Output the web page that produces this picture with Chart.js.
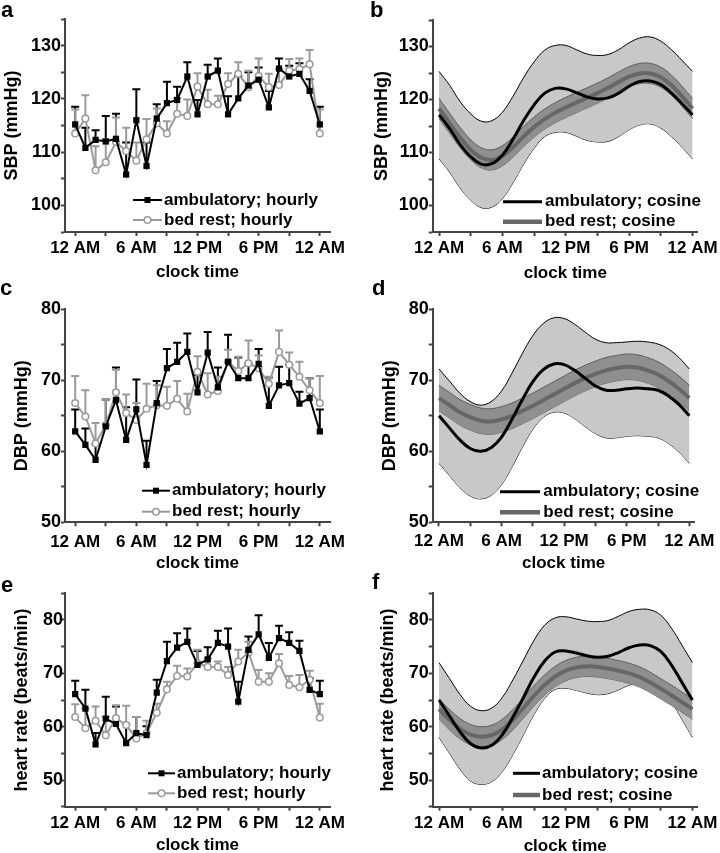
<!DOCTYPE html>
<html>
<head>
<meta charset="utf-8">
<script src="https://cdn.jsdelivr.net/npm/chart.js@4.4.1/dist/chart.umd.min.js"></script>
<style>
  body { margin: 0; background: #fff; width: 720px; height: 853px; overflow: hidden; position: relative; }
  canvas { position: absolute; }
</style>
</head>
<body>
<canvas id="pa" width="360" height="284" style="left:0;top:0"></canvas>
<canvas id="pb" width="360" height="284" style="left:360px;top:0"></canvas>
<canvas id="pc" width="360" height="298" style="left:0;top:280px"></canvas>
<canvas id="pd" width="360" height="298" style="left:360px;top:280px"></canvas>
<canvas id="pe" width="360" height="292" style="left:0;top:566px"></canvas>
<canvas id="pf" width="360" height="292" style="left:360px;top:566px"></canvas>
<script>
// clock hours, 0 = midnight, 24 = next midnight
const hours = [0,1,2,3,4,5,6,7,8,9,10,11,12,13,14,15,16,17,18,19,20,21,22,23,24];
const xTicks = [0,3,6,9,12,15,18,21,24];
const xLabels = ['12 AM','','6 AM','','12 PM','','6 PM','','12 AM'];
const sbpTicks = [95,100,105,110,115,120,125,130,135];
const dbpTicks = [50,55,60,65,70,75,80];
const hrTicks = [45,50,55,60,65,70,75,80,85];

// hourly means and upper error bar ends
const ambSBP   = [115.2,110.8,112.3,112.0,112.5,105.8,116.0,107.4,116.3,119.2,119.8,124.2,117.1,124.2,125.3,117.1,120.1,122.5,123.6,118.4,125.7,124.2,124.7,121.5,115.2];
const ambSBPup = [118.5,114.6,114.1,116.8,117.2,111.8,121.8,111.8,119.0,123.2,122.3,126.9,119.8,126.4,127.6,120.5,124.3,125.0,125.9,121.5,127.6,126.2,126.7,123.7,118.5];
const bedSBP   = [113.5,116.3,106.6,108.1,111.9,110.2,108.4,112.4,115.4,113.5,117.2,116.8,122.3,119.0,119.0,122.8,124.7,122.2,124.3,122.2,122.6,125.3,125.6,126.5,113.5];
const bedSBPup = [118.0,120.7,111.1,112.4,116.5,114.6,111.8,116.2,118.2,115.8,120.1,119.9,124.8,121.7,120.6,124.8,126.9,125.3,127.6,124.7,125.6,127.5,127.6,129.2,118.0];

const ambDBP   = [62.8,60.9,58.8,63.5,67.2,61.6,65.9,58.1,66.8,71.7,72.6,74.0,68.3,73.9,69.0,72.6,70.3,70.3,72.3,66.4,69.3,69.6,66.7,67.5,62.8];
const ambDBPup = [65.9,63.2,61.0,67.3,71.8,66.2,70.1,61.5,69.9,74.4,75.3,76.6,70.7,76.8,71.8,76.4,73.2,72.4,74.4,70.4,71.9,72.2,68.4,70.3,65.9];
const bedDBP   = [66.8,64.9,61.1,63.7,68.3,65.4,64.4,66.0,66.5,66.4,67.4,65.6,71.2,68.0,68.5,72.6,71.3,72.4,71.7,69.5,74.0,72.2,70.5,68.6,66.8];
const bedDBPup = [70.6,68.6,64.0,67.3,71.5,68.0,66.8,69.5,69.3,69.1,69.9,68.1,73.4,71.0,70.5,74.3,73.3,75.6,73.5,70.5,77.0,73.9,72.6,70.3,70.6];

const ambHR   = [66.1,63.4,56.7,61.5,60.5,56.9,58.8,58.4,66.4,72.3,74.8,75.9,71.6,72.6,75.7,75.0,64.7,74.4,77.3,72.9,76.6,75.7,74.2,66.9,66.1];
const ambHRup = [68.6,66.9,58.8,65.6,63.8,60.5,61.8,60.1,68.8,75.9,77.5,78.4,74.2,74.9,78.0,78.4,68.4,76.9,80.9,75.7,78.9,77.7,76.1,69.1,68.6];
const bedHR   = [61.8,59.7,61.1,58.4,61.6,60.3,57.8,58.8,62.6,67.0,69.5,69.4,71.9,71.2,71.2,69.7,72.2,73.9,68.4,68.4,71.9,67.8,67.4,68.8,61.7];
const bedHRup = [64.2,63.4,63.8,61.8,64.0,63.9,61.8,61.1,64.3,68.4,71.4,70.9,74.4,72.8,72.2,71.2,74.4,75.9,70.6,70.0,73.6,69.5,69.7,70.5,64.3];

// cosine fits with confidence bands
const ambSBPfit = [117.1,114.5,111.5,109.2,107.8,107.9,109.5,112.5,116.0,119.0,121.2,122.1,122.0,121.3,120.5,120.1,120.3,121.2,122.5,123.4,123.5,122.8,121.2,119.2,117.1];
const ambSBPhi  = [125.3,122.7,119.6,117.3,115.9,116.0,117.6,120.6,124.1,127.1,129.3,130.2,130.2,129.4,128.6,128.3,128.5,129.4,130.7,131.6,131.8,131.0,129.4,127.4,125.3];
const ambSBPlo  = [108.8,106.3,103.3,101.0,99.6,99.7,101.3,104.3,107.8,110.8,113.0,113.8,113.8,113.1,112.3,112.0,112.1,113.0,114.3,115.2,115.4,114.6,113.0,111.0,108.8];
const bedSBPfit = [118.3,115.5,112.8,110.5,109.0,108.6,109.4,111.0,113.0,114.8,116.3,117.5,118.5,119.4,120.3,121.2,122.2,123.3,124.3,124.9,124.9,124.2,122.7,120.6,118.3];
const bedSBPhi  = [120.2,117.4,114.7,112.4,110.9,110.5,111.3,112.9,114.9,116.7,118.2,119.4,120.4,121.3,122.2,123.1,124.1,125.2,126.2,126.8,126.8,126.1,124.6,122.5,120.2];
const bedSBPlo  = [116.4,113.6,110.9,108.6,107.1,106.7,107.5,109.1,111.1,112.9,114.4,115.6,116.6,117.5,118.4,119.3,120.3,121.4,122.4,123.0,123.0,122.3,120.8,118.7,116.4];

const ambDBPfit = [65.0,63.3,61.6,60.4,60.0,60.5,62.0,64.5,67.3,69.8,71.5,72.3,72.2,71.4,70.3,69.2,68.6,68.6,68.8,68.9,68.8,68.6,67.8,66.6,65.0];
const ambDBPhi  = [71.6,69.9,68.2,67.0,66.5,67.0,68.5,71.0,73.8,76.3,78.0,78.8,78.7,77.9,76.8,75.8,75.3,75.3,75.4,75.5,75.4,75.1,74.4,73.2,71.6];
const ambDBPlo  = [58.3,56.6,54.9,53.7,53.3,53.8,55.3,57.8,60.6,63.1,64.8,65.5,65.4,64.6,63.5,62.5,61.9,61.9,62.1,62.2,62.1,61.9,61.1,59.9,58.3];
const bedDBPfit = [67.5,66.5,65.5,64.8,64.3,64.2,64.5,65.0,65.7,66.4,67.2,68.0,68.8,69.6,70.3,70.9,71.4,71.7,71.9,71.8,71.4,70.8,69.9,68.8,67.5];
const bedDBPhi  = [69.3,68.3,67.3,66.6,66.1,66.0,66.3,66.8,67.5,68.2,69.0,69.8,70.6,71.4,72.1,72.7,73.2,73.5,73.7,73.6,73.2,72.6,71.7,70.6,69.3];
const bedDBPlo  = [65.7,64.7,63.7,63.0,62.5,62.4,62.7,63.2,63.9,64.6,65.4,66.2,67.0,67.8,68.5,69.1,69.6,69.9,70.1,70.0,69.6,69.0,68.1,67.0,65.7];

const ambHRfit = [65.0,62.0,59.0,56.8,56.0,56.5,58.5,61.8,65.5,69.3,72.3,74.0,74.2,73.8,73.3,73.0,73.2,73.9,74.8,75.3,75.2,74.1,71.6,68.3,65.0];
const ambHRhi  = [72.0,69.0,66.0,63.8,63.0,63.5,65.5,68.8,72.5,76.2,79.0,80.4,80.6,80.2,79.8,79.7,79.9,80.7,81.6,82.0,81.9,80.9,78.5,75.3,72.0];
const ambHRlo  = [58.0,55.0,52.0,49.8,49.2,49.7,51.6,54.8,58.5,62.3,65.3,67.0,67.2,66.8,66.3,66.0,66.2,66.9,67.8,68.2,68.1,67.1,64.7,61.4,58.0];
const bedHRfit = [63.3,61.3,59.6,58.5,58.1,58.4,59.5,61.3,63.5,65.8,67.8,69.4,70.5,71.1,71.3,71.2,70.9,70.5,70.0,69.3,68.3,67.1,65.9,64.6,63.3];
const bedHRhi  = [65.2,63.2,61.5,60.4,60.0,60.3,61.4,63.2,65.4,67.7,69.7,71.3,72.4,73.0,73.2,73.1,72.8,72.4,71.9,71.2,70.2,69.0,67.8,66.5,65.2];
const bedHRlo  = [61.4,59.4,57.7,56.6,56.2,56.5,57.6,59.4,61.6,63.9,65.9,67.5,68.6,69.2,69.4,69.3,69.0,68.6,68.1,67.4,66.4,65.2,64.0,62.7,61.4];

const AXIS = '#444';
const GREY = '#9a9a9a';

Chart.defaults.font.family = '"Liberation Sans", Arial, sans-serif';
Chart.defaults.font.weight = 'bold';
Chart.defaults.color = '#000';
Chart.defaults.animation = false;

const pts = arr => hours.map((h, i) => ({ x: h, y: arr[i] }));

// upper half error bars with a cap
const errorBars = {
  id: 'errorBars',
  beforeDatasetsDraw(chart) {
    const ctx = chart.ctx, ys = chart.scales.y;
    chart.data.datasets.forEach((ds, i) => {
      if (!ds.upper) return;
      const meta = chart.getDatasetMeta(i);
      ctx.save();
      ctx.strokeStyle = ds.borderColor;
      ctx.lineWidth = 2;
      meta.data.forEach((pt, j) => {
        const top = ys.getPixelForValue(ds.upper[j]);
        ctx.beginPath();
        ctx.moveTo(pt.x, pt.y);
        ctx.lineTo(pt.x, top);
        ctx.moveTo(pt.x - 4, top);
        ctx.lineTo(pt.x + 4, top);
        ctx.stroke();
      });
      ctx.restore();
    });
  }
};

// panel letter and the legend inside the plot
const deco = {
  id: 'deco',
  afterDraw(chart, args, o) {
    const ctx = chart.ctx;
    ctx.save();
    ctx.fillStyle = '#000';
    ctx.font = 'bold 22px "Liberation Sans", Arial, sans-serif';
    ctx.textBaseline = 'alphabetic';
    ctx.fillText(o.letter, o.lx, o.ly);
    ctx.font = 'bold 17px "Liberation Sans", Arial, sans-serif';
    ctx.textBaseline = 'middle';
    o.rows.forEach(r => {
      ctx.strokeStyle = r.color;
      ctx.lineWidth = r.width;
      ctx.beginPath();
      ctx.moveTo(o.x0, r.y);
      ctx.lineTo(o.x1, r.y);
      ctx.stroke();
      const cx = (o.x0 + o.x1) / 2;
      if (r.marker === 'rect') {
        ctx.fillStyle = r.color;
        ctx.fillRect(cx - 3, r.y - 3, 6, 6);
      } else if (r.marker === 'circle') {
        ctx.fillStyle = '#fff';
        ctx.lineWidth = 1.5;
        ctx.beginPath();
        ctx.arc(cx, r.y, 3.3, 0, Math.PI * 2);
        ctx.fill();
        ctx.stroke();
      }
      ctx.fillStyle = '#000';
      ctx.fillText(r.text, o.tx, r.y);
    });
    ctx.restore();
  }
};

function scales(g) {
  return {
    x: {
      type: 'linear', min: g.xmin, max: g.xmax,
      afterBuildTicks: s => { s.ticks = xTicks.map(v => ({ value: v })); },
      afterFit: s => { s.height = g.xh; },
      ticks: { callback: (v, i) => xLabels[i], autoSkip: false, maxRotation: 0, padding: g.xpad, font: { size: 17 } },
      grid: { drawOnChartArea: false, tickLength: 4, tickColor: AXIS, tickWidth: 2 },
      border: { color: AXIS, width: 2 },
      title: { display: true, text: 'clock time', font: { size: 17 }, padding: { top: 0, bottom: g.xtpad } }
    },
    y: {
      type: 'linear', min: g.yticks[0], max: g.yticks[g.yticks.length - 1],
      afterBuildTicks: s => { s.ticks = g.yticks.map(v => ({ value: v })); },
      afterFit: s => { s.width = g.yw; },
      ticks: { callback: v => (v % 10 === 0 ? v : ''), padding: g.ypad, font: { size: 18 } },
      grid: { drawOnChartArea: false, tickLength: 4, tickColor: AXIS, tickWidth: 2 },
      border: { color: AXIS, width: 2 },
      title: { display: true, text: g.ytitle, font: { size: 18 }, padding: { top: g.ytpad, bottom: 0 } }
    }
  };
}

function hourlyChart(id, g, amb, ambUp, bed, bedUp) {
  new Chart(document.getElementById(id), {
    type: 'line',
    data: {
      datasets: [
        { label: 'ambulatory; hourly', data: pts(amb), upper: ambUp, borderColor: '#000', borderWidth: 2,
          pointStyle: 'rect', pointRadius: 4.4, pointBackgroundColor: '#000', pointBorderWidth: 0, tension: 0 },
        { label: 'bed rest; hourly', data: pts(bed), upper: bedUp, borderColor: GREY, borderWidth: 2,
          pointStyle: 'circle', pointRadius: 3.3, pointBackgroundColor: '#fff', pointBorderColor: GREY, pointBorderWidth: 1.5, tension: 0 }
      ]
    },
    options: {
      responsive: false,
      layout: { padding: { top: g.top, right: g.right, left: 0, bottom: 0 } },
      scales: scales(g),
      plugins: {
        legend: { display: false }, tooltip: { enabled: false },
        deco: { letter: g.letter, lx: g.lx, ly: g.ly, x0: g.x0, x1: g.x1, tx: g.tx, rows: [
          { y: g.r1, text: 'ambulatory; hourly', color: '#000', width: 2, marker: 'rect' },
          { y: g.r2, text: 'bed rest; hourly', color: GREY, width: 2, marker: 'circle' }
        ] }
      }
    },
    plugins: [errorBars, deco]
  });
}

function cosineChart(id, g, amb, ambHi, ambLo, bed, bedHi, bedLo) {
  const line = { pointRadius: 0, tension: 0.4, fill: false };
  new Chart(document.getElementById(id), {
    type: 'line',
    data: {
      datasets: [
        { ...line, label: 'ambulatory; cosine', data: pts(amb), borderColor: '#000', borderWidth: 3, order: 1 },
        { ...line, label: 'bed rest; cosine', data: pts(bed), borderColor: '#676767', borderWidth: 4, order: 2 },
        { ...line, data: pts(bedHi), borderColor: '#5c5c5c', borderWidth: 1, fill: 3, backgroundColor: '#8f8f8f', order: 3 },
        { ...line, data: pts(bedLo), borderColor: '#5c5c5c', borderWidth: 1, order: 4 },
        { ...line, data: pts(ambHi), borderColor: '#000', borderWidth: 1, fill: 5, backgroundColor: '#c8c8c8', order: 5 },
        { ...line, data: pts(ambLo), borderColor: '#000', borderWidth: 1, order: 6 }
      ]
    },
    options: {
      responsive: false,
      layout: { padding: { top: g.top, right: g.right, left: 0, bottom: 0 } },
      scales: scales(g),
      plugins: {
        legend: { display: false }, tooltip: { enabled: false },
        deco: { letter: g.letter, lx: g.lx, ly: g.ly, x0: g.x0, x1: g.x1, tx: g.tx, rows: [
          { y: g.r1, text: 'ambulatory; cosine', color: '#000', width: 3 },
          { y: g.r2, text: 'bed rest; cosine', color: '#676767', width: 4.5 }
        ] }
      }
    },
    plugins: [deco]
  });
}

const leftCol = { xmin: -1, xmax: 25, yw: 65, right: 30 };
const rightCol = { xmin: -0.6, xmax: 24.5, yw: 72.7, right: 21.3 };

hourlyChart('pa', { ...leftCol, top: 19, xh: 52, xpad: 2, xtpad: 1, ypad: 0, ytpad: 1.7,
  yticks: sbpTicks, ytitle: 'SBP (mmHg)', letter: 'a', lx: 1, ly: 17,
  x0: 133, x1: 162, tx: 164, r1: 200, r2: 220 }, ambSBP, ambSBPup, bedSBP, bedSBPup);

cosineChart('pb', { ...rightCol, top: 20, xh: 52, xpad: 2, xtpad: 0.5, ypad: 0, ytpad: 11.7,
  yticks: sbpTicks, ytitle: 'SBP (mmHg)', letter: 'b', lx: 10, ly: 17,
  x0: 143, x1: 182, tx: 185, r1: 201.7, r2: 221.7 }, ambSBPfit, ambSBPhi, ambSBPlo, bedSBPfit, bedSBPhi, bedSBPlo);

hourlyChart('pc', { ...leftCol, top: 29.3, xh: 55.7, xpad: 5.8, xtpad: 4.5, ypad: 0, ytpad: 11.7,
  yticks: dbpTicks, ytitle: 'DBP (mmHg)', letter: 'c', lx: 0, ly: 15,
  x0: 142, x1: 170, tx: 172, r1: 210.7, r2: 231.7 }, ambDBP, ambDBPup, bedDBP, bedDBPup);

cosineChart('pd', { ...rightCol, top: 29.3, xh: 55.7, xpad: 5.2, xtpad: 4.5, ypad: 0, ytpad: 19.7,
  yticks: dbpTicks, ytitle: 'DBP (mmHg)', letter: 'd', lx: 12, ly: 15,
  x0: 140, x1: 180, tx: 183.3, r1: 211.7, r2: 232.3 }, ambDBPfit, ambDBPhi, ambDBPlo, bedDBPfit, bedDBPhi, bedDBPlo);

hourlyChart('pe', { ...leftCol, top: 27.3, xh: 51.3, xpad: 2.1, xtpad: 2.8, ypad: -2, ytpad: 11.7,
  yticks: hrTicks, ytitle: 'heart rate (beats/min)', letter: 'e', lx: 1, ly: 26,
  x0: 148, x1: 175, tx: 177, r1: 207.3, r2: 227.3 }, ambHR, ambHRup, bedHR, bedHRup);

cosineChart('pf', { ...rightCol, top: 27.3, xh: 51.3, xpad: 2.1, xtpad: 1.1, ypad: 0, ytpad: 17.7,
  yticks: hrTicks, ytitle: 'heart rate (beats/min)', letter: 'f', lx: 12, ly: 23,
  x0: 153, x1: 180, tx: 182, r1: 207.3, r2: 229 }, ambHRfit, ambHRhi, ambHRlo, bedHRfit, bedHRhi, bedHRlo);
</script>
</body>
</html>
